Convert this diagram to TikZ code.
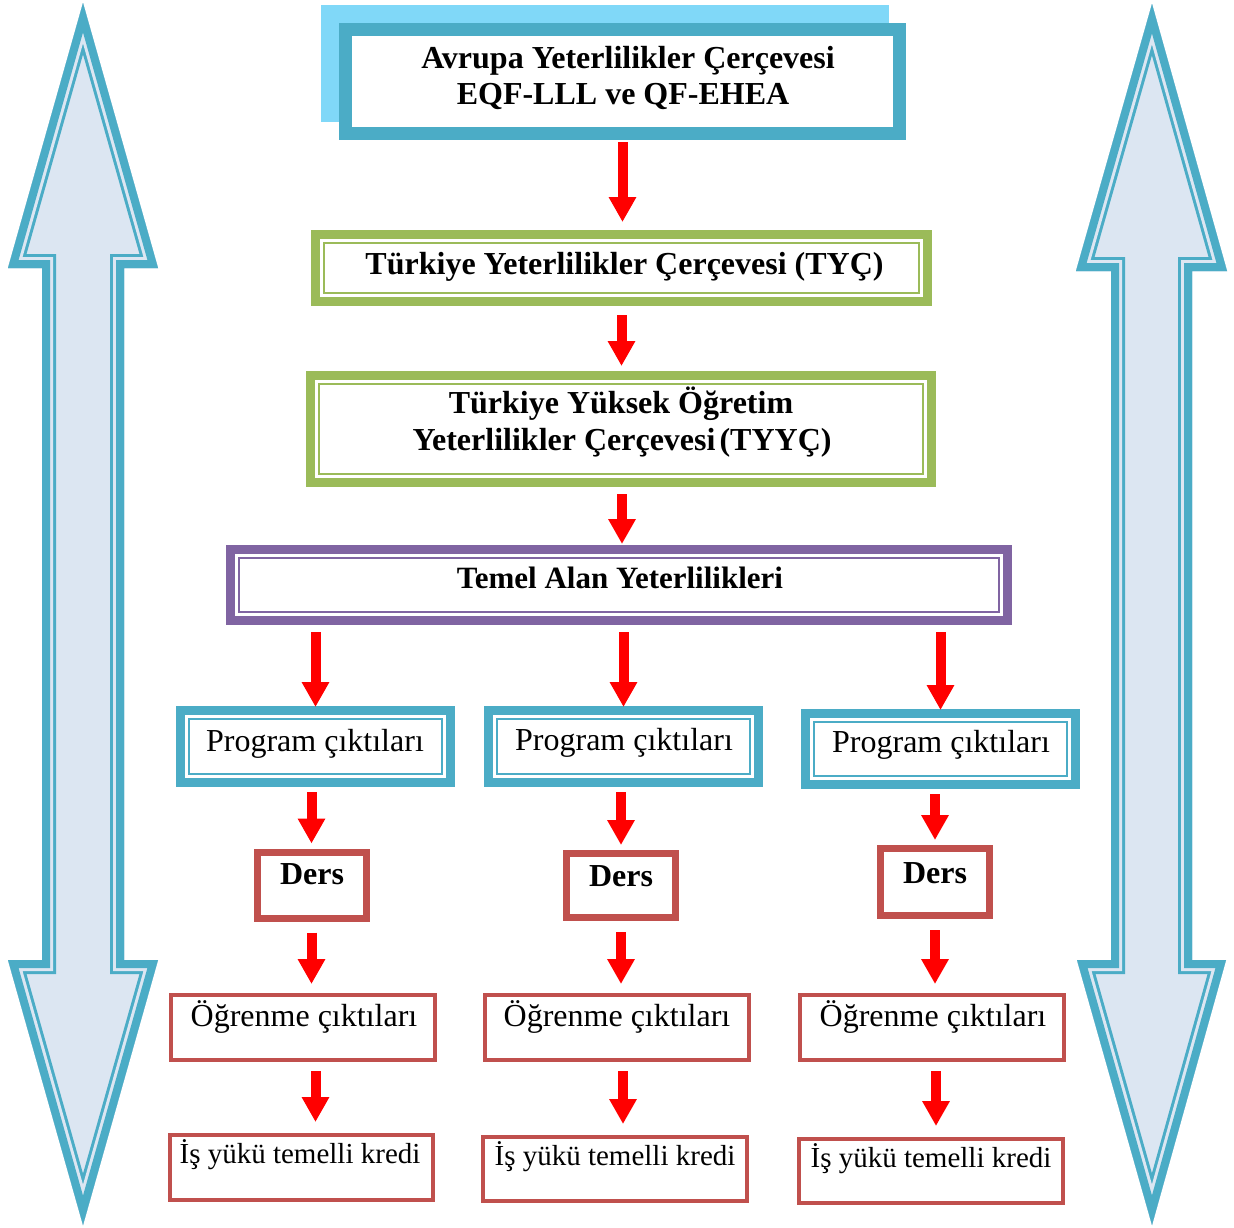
\documentclass[tikz,border=0pt]{standalone}
\usepackage{fontspec}
\setmainfont{Liberation Serif}
\usetikzlibrary{arrows.meta}
\definecolor{tealc}{HTML}{4BACC6}
\definecolor{skyc}{HTML}{80D8F8}
\definecolor{grnc}{HTML}{9BBB59}
\definecolor{purc}{HTML}{8064A2}
\definecolor{brickc}{HTML}{C0504D}
\definecolor{palec}{HTML}{DCE6F2}
\begin{document}
\begin{tikzpicture}[x=1pt,y=-1pt,
  plainbox/.style={draw=#1, fill=white, inner sep=0pt, line join=miter},
  dblbox/.style={draw=#1, fill=white, inner sep=0pt, line width=9pt, line join=miter,
    path picture={\draw[#1, line width=2.5pt]
      ([xshift=8.5pt,yshift=-8.5pt]path picture bounding box.north west) rectangle
      ([xshift=-8.5pt,yshift=8.5pt]path picture bounding box.south east);}},
  hb/.style={font=\bfseries\fontsize{32}{36}\selectfont, anchor=base, inner sep=0pt},
  rt/.style={font=\fontsize{32}{36}\selectfont, anchor=base, inner sep=0pt},
  st/.style={font=\fontsize{29}{33}\selectfont, anchor=base, inner sep=0pt},
  rarr/.style={draw=red, line width=10pt, -{Triangle[width=26pt,length=25pt]}},
  big/.style={line join=miter, miter limit=20}
]
\useasboundingbox (0,0) rectangle (1234,1227);
\fill[white] (0,0) rectangle (1234,1227);

% big double arrows
\def\leftbig{(83,3) -- (158,268) -- (124,268) -- (124,960) -- (158,960) -- (83,1225) -- (8,960) -- (42,960) -- (42,268) -- (8,268) -- cycle}
\def\rightbig{(1152,4) -- (1227,271) -- (1192,271) -- (1192,960) -- (1226,960) -- (1152,1225) -- (1077,960) -- (1111,960) -- (1111,271) -- (1076,271) -- cycle}
\fill[palec] \leftbig;
\begin{scope}
  \clip \leftbig;
  \draw[big, tealc, line width=28pt] \leftbig;
  \draw[big, palec, line width=22pt] \leftbig;
  \draw[big, tealc, line width=16pt] \leftbig;
\end{scope}
\fill[palec] \rightbig;
\begin{scope}
  \clip \rightbig;
  \draw[big, tealc, line width=28pt] \rightbig;
  \draw[big, palec, line width=22pt] \rightbig;
  \draw[big, tealc, line width=16pt] \rightbig;
\end{scope}

% top box with shadow
\fill[skyc] (321,5) rectangle (889,122);
\node[plainbox=tealc, line width=13pt, minimum width=554pt, minimum height=104pt] (b1) at (622.5,81.5) {};
\node[hb] (t1a) at (628,68) {Avrupa Yeterlilikler Çerçevesi};
\node[hb] (t1b) at (623,104) {EQF-LLL ve QF-EHEA};

\node[dblbox=grnc, minimum width=612pt, minimum height=67pt] (b2) at (621.5,268) {};
\node[hb] (t2) at (624.5,274) {Türkiye Yeterlilikler Çerçevesi (TYÇ)};

\node[dblbox=grnc, minimum width=621pt, minimum height=107pt] (b3) at (621,429) {};
\node[hb] (t3a) at (621,413) {Türkiye Yüksek Öğretim};
\node[hb] (t3b) at (622,450) {Yeterlilikler Çerçevesi\hspace{4pt}(TYYÇ)};

\node[dblbox=purc, minimum width=777pt, minimum height=71pt] (tem) at (619,585) {};
\node[hb, font=\bfseries\fontsize{31}{35}\selectfont] (t4) at (620,588) {Temel Alan Yeterlilikleri};

% program boxes
\node[dblbox=tealc, minimum width=270pt, minimum height=72pt] (p1) at (315.5,746.5) {};
\node[dblbox=tealc, minimum width=270pt, minimum height=72pt] (p2) at (623.5,746.5) {};
\node[dblbox=tealc, minimum width=270pt, minimum height=71pt] (p3) at (940.5,749) {};
\node[rt] (tp1) at (315,751) {Program çıktıları};
\node[rt] (tp2) at (624,750) {Program çıktıları};
\node[rt] (tp3) at (941,752) {Program çıktıları};

% ders boxes
\node[plainbox=brickc, line width=7pt, minimum width=109pt, minimum height=66pt] (d1) at (311.5,885) {};
\node[plainbox=brickc, line width=7pt, minimum width=109pt, minimum height=64pt] (d2) at (621,885.5) {};
\node[plainbox=brickc, line width=7pt, minimum width=109pt, minimum height=67pt] (d3) at (935,882) {};
\node[hb] (td1) at (312,884) {Ders};
\node[hb] (td2) at (621,886) {Ders};
\node[hb] (td3) at (935,883) {Ders};

% ogrenme boxes
\node[plainbox=brickc, line width=4pt, minimum width=264pt, minimum height=65pt] (o1) at (303,1027.5) {};
\node[plainbox=brickc, line width=4pt, minimum width=264pt, minimum height=65pt] (o2) at (617,1027.5) {};
\node[plainbox=brickc, line width=4pt, minimum width=264pt, minimum height=65pt] (o3) at (932,1027.5) {};
\node[rt] (to1) at (304,1026) {Öğrenme çıktıları};
\node[rt] (to2) at (617,1026) {Öğrenme çıktıları};
\node[rt] (to3) at (933,1026) {Öğrenme çıktıları};

% is yuku boxes
\node[plainbox=brickc, line width=4pt, minimum width=263pt, minimum height=65pt] (i1) at (301.5,1167.5) {};
\node[plainbox=brickc, line width=4pt, minimum width=264pt, minimum height=64pt] (i2) at (615,1169) {};
\node[plainbox=brickc, line width=4pt, minimum width=264pt, minimum height=64pt] (i3) at (931,1171) {};
\node[st] (ti1) at (300,1163) {İş yükü temelli kredi};
\node[st] (ti2) at (615,1165) {İş yükü temelli kredi};
\node[st] (ti3) at (931,1167) {İş yükü temelli kredi};

% red arrows
\draw[rarr, shorten <=2pt, shorten >=8pt] (b1.south) -- (b2.north -| b1.south);
\draw[rarr, shorten <=9pt, shorten >=5pt] (b2.south) -- (b3.north -| b2.south);
\draw[rarr, shorten <=7pt, shorten >=1pt] ([xshift=1pt]b3.south) -- ([xshift=1pt]tem.north -| b3.south);
\foreach \p in {p1,p2,p3}{
  \draw[rarr, shorten <=7pt, shorten >=-1pt] (tem.south -| \p.north) -- (\p.north);
}
\draw[rarr, shorten <=5pt, shorten >=5pt] (p1.south -| d1.north) -- (d1.north);
\draw[rarr, shorten <=5pt, shorten >=5pt] (p2.south -| d2.north) -- (d2.north);
\draw[rarr, shorten <=5pt, shorten >=5pt] (p3.south -| d3.north) -- (d3.north);
\draw[rarr, shorten <=11pt, shorten >=9pt] (d1.south) -- (o1.north -| d1.south);
\draw[rarr, shorten <=11pt, shorten >=9pt] (d2.south) -- (o2.north -| d2.south);
\draw[rarr, shorten <=11pt, shorten >=9pt] (d3.south) -- (o3.north -| d3.south);
\draw[rarr, shorten <=9pt, shorten >=11pt] ([xshift=4pt]o1.south -| d1.south) -- ([xshift=4pt]i1.north -| d1.south);
\draw[rarr, shorten <=9pt, shorten >=11pt] ([xshift=2pt]o2.south -| d2.south) -- ([xshift=2pt]i2.north -| d2.south);
\draw[rarr, shorten <=9pt, shorten >=11pt] ([xshift=1pt]o3.south -| d3.south) -- ([xshift=1pt]i3.north -| d3.south);
\end{tikzpicture}
\end{document}
